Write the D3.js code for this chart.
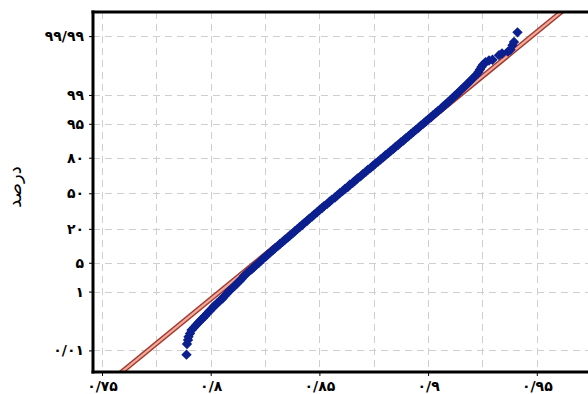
<!DOCTYPE html>
<html>
<head>
<meta charset="utf-8">
<script src="https://cdn.jsdelivr.net/npm/d3@7"></script>
<style>
  html, body { margin: 0; padding: 0; background: #fff; }
  svg { display: block; font-family: "DejaVu Sans", sans-serif; }
</style>
</head>
<body>
<div id="chart"></div>
<script>
// normal probability plot

const xTicks = [0.75, 0.8, 0.85, 0.9, 0.95];
const xTickLabels = ['۰/۷۵', '۰/۸', '۰/۸۵', '۰/۹', '۰/۹۵'];
const xGrid = [0.75, 0.775, 0.8, 0.825, 0.85, 0.875, 0.9, 0.925, 0.95, 0.975];

const yTicks = [0.01, 1, 5, 20, 50, 80, 95, 99, 99.99];
const yTickLabels = ['۰/۰۱', '۱', '۵', '۲۰', '۵۰', '۸۰', '۹۵', '۹۹', '۹۹/۹۹'];
const yLabel = 'درصد';

// fitted normal line
const fitMean = 0.85942;
const fitSd = 0.023726;

// cumulative percent of each point
const pct = [
  0.0067, 0.018, 0.026, 0.034, 0.045, 0.060, 0.074, 0.090, 0.111, 0.135,
  0.159, 0.184, 0.219, 0.266, 0.318, 0.380, 0.454, 0.539, 0.640, 0.755,
  0.890, 1.04, 1.22, 1.41, 1.63, 1.89, 2.18,
  2.56, 2.87, 3.22, 3.59, 4.01, 4.46, 4.95, 5.48, 6.06, 6.68,
  7.35, 8.08, 8.85, 9.68, 10.56, 11.51, 12.51, 13.57, 14.69, 15.87,
  17.11, 18.41, 19.77, 21.19, 22.66, 24.20, 25.78, 27.43, 29.12, 30.85,
  32.64, 34.46, 36.32, 38.21, 40.13, 42.07, 44.04, 46.02, 48.01, 50.00,
  51.99, 53.98, 55.96, 57.93, 59.87, 61.79, 63.68, 65.54, 67.36, 69.15,
  70.88, 72.57, 74.22, 75.80, 77.34, 78.81, 80.23, 81.59, 82.89, 84.13,
  85.31, 86.43, 87.49, 88.49, 89.44, 90.32, 91.15, 91.92, 92.65, 93.32,
  93.94, 94.52, 95.05, 95.54, 95.99, 96.41, 96.78, 97.13, 97.44, 97.72,
  97.98, 98.21, 98.42, 98.61, 98.78, 98.93, 99.06, 99.18, 99.29,
  99.40, 99.49, 99.57, 99.64, 99.70, 99.75, 99.795, 99.831, 99.861, 99.882,
  99.903, 99.916, 99.921, 99.946, 99.953, 99.960, 99.966, 99.977, 99.983, 99.993
];

// measured value of each point
const val = [
  0.78887, 0.78910, 0.78956, 0.78979, 0.79048, 0.79117, 0.79232, 0.79324, 0.79439, 0.79554,
  0.79646, 0.79738, 0.79830, 0.79945, 0.80060, 0.80160, 0.80290, 0.80405, 0.80545, 0.80635,
  0.80750, 0.80850, 0.80980, 0.81095, 0.81210, 0.81325, 0.81440,
  0.81537, 0.81654, 0.81753, 0.81881, 0.81980, 0.82088, 0.82207, 0.82306, 0.82404, 0.82533,
  0.82622, 0.82750, 0.82849, 0.82958, 0.83086, 0.83185, 0.83313, 0.83412, 0.83541, 0.83639,
  0.83768, 0.83867, 0.83985, 0.84094, 0.84213, 0.84311, 0.84440, 0.84538, 0.84667, 0.84766,
  0.84894, 0.84993, 0.85122, 0.85220, 0.85359, 0.85467, 0.85576, 0.85715, 0.85823, 0.85932,
  0.86061, 0.86169, 0.86308, 0.86397, 0.86535, 0.86644, 0.86752, 0.86891, 0.86990, 0.87118,
  0.87217, 0.87356, 0.87464, 0.87573, 0.87701, 0.87810, 0.87939, 0.88037, 0.88166, 0.88275,
  0.88403, 0.88502, 0.88630, 0.88739, 0.88868, 0.88966, 0.89095, 0.89204, 0.89322, 0.89431,
  0.89559, 0.89658, 0.89787, 0.89895, 0.90004, 0.90133, 0.90231, 0.90350, 0.90458, 0.90587,
  0.90686, 0.90794, 0.90913, 0.91012, 0.91120, 0.91219, 0.91328, 0.91426, 0.91525,
  0.91651, 0.91766, 0.91881, 0.91996, 0.92111, 0.92226, 0.92318, 0.92387, 0.92456, 0.92525,
  0.92640, 0.92801, 0.92962, 0.93261, 0.93399, 0.93675, 0.93790, 0.93882, 0.93951, 0.94112
];

const WIDTH = 588, HEIGHT = 394;
const PLOT = { left: 93, top: 12, right: 610, bottom: 372 };

// inverse normal cdf (Acklam)
function qnorm(p) {
  const a = [-3.969683028665376e+01, 2.209460984245205e+02, -2.759285104469687e+02, 1.383577518672690e+02, -3.066479806614716e+01, 2.506628277459239e+00];
  const b = [-5.447609879822406e+01, 1.615858368580409e+02, -1.556989798598866e+02, 6.680131188771972e+01, -1.328068155288572e+01];
  const c = [-7.784894002430293e-03, -3.223964580411365e-01, -2.400758277161838e+00, -2.549732539343734e+00, 4.374664141464968e+00, 2.938163982698783e+00];
  const d = [7.784695709041462e-03, 3.224671290700398e-01, 2.445134137142996e+00, 3.754408661907416e+00];
  const pl = 0.02425;
  let q, r;
  if (p < pl) {
    q = Math.sqrt(-2 * Math.log(p));
    return (((((c[0]*q+c[1])*q+c[2])*q+c[3])*q+c[4])*q+c[5]) / ((((d[0]*q+d[1])*q+d[2])*q+d[3])*q+1);
  }
  if (p <= 1 - pl) {
    q = p - 0.5; r = q * q;
    return (((((a[0]*r+a[1])*r+a[2])*r+a[3])*r+a[4])*r+a[5])*q / (((((b[0]*r+b[1])*r+b[2])*r+b[3])*r+b[4])*r+1);
  }
  q = Math.sqrt(-2 * Math.log(1 - p));
  return -(((((c[0]*q+c[1])*q+c[2])*q+c[3])*q+c[4])*q+c[5]) / ((((d[0]*q+d[1])*q+d[2])*q+d[3])*q+1);
}
const zOf = p => qnorm(p / 100);

const x = d3.scaleLinear().domain([0.75, 0.95]).range([102, 536.8]);
const y = d3.scaleLinear().domain([-4.23, 4.29]).range([PLOT.bottom, PLOT.top]);

const svg = d3.select('#chart').append('svg')
  .attr('width', WIDTH)
  .attr('height', HEIGHT);

svg.append('clipPath').attr('id', 'plot-clip')
  .append('rect')
  .attr('x', PLOT.left).attr('y', PLOT.top)
  .attr('width', PLOT.right - PLOT.left).attr('height', PLOT.bottom - PLOT.top);

// grid
const grid = svg.append('g')
  .attr('stroke', '#cfcfcf')
  .attr('stroke-width', 1)
  .attr('stroke-dasharray', '7,5');

grid.selectAll('line.v')
  .data(xGrid)
  .join('line')
  .attr('class', 'v')
  .attr('x1', d => Math.round(x(d)) + 0.5).attr('x2', d => Math.round(x(d)) + 0.5)
  .attr('y1', PLOT.top).attr('y2', PLOT.bottom);

grid.selectAll('line.h')
  .data(yTicks)
  .join('line')
  .attr('class', 'h')
  .attr('x1', PLOT.left).attr('x2', WIDTH)
  .attr('y1', d => Math.round(y(zOf(d))) + 0.5).attr('y2', d => Math.round(y(zOf(d))) + 0.5);

const plot = svg.append('g').attr('clip-path', 'url(#plot-clip)');

// fitted line, dark edges with light core
const zLine = [-4.6, 4.6];
const fitLine = d3.line()
  .x(z => x(fitMean + fitSd * z))
  .y(z => y(z));

plot.append('path')
  .datum(zLine)
  .attr('d', fitLine)
  .attr('fill', 'none')
  .attr('stroke', '#a3372c')
  .attr('stroke-width', 5);

plot.append('path')
  .datum(zLine)
  .attr('d', fitLine)
  .attr('fill', 'none')
  .attr('stroke', '#eeaa9c')
  .attr('stroke-width', 2.2);

// points
const points = pct.map((p, i) => ({ p, v: val[i] }));
const diamond = d3.symbol().type(d3.symbolSquare).size(54);

plot.append('g')
  .selectAll('path')
  .data(points)
  .join('path')
  .attr('d', diamond)
  .attr('transform', d => `translate(${x(d.v)},${y(zOf(d.p))}) rotate(45)`)
  .attr('fill', '#0b1f8e');

// axes
const xAxis = d3.axisBottom(x)
  .tickValues(xTicks)
  .tickFormat((d, i) => xTickLabels[i])
  .tickSize(4)
  .tickPadding(5);

const gx = svg.append('g')
  .attr('transform', `translate(0,${PLOT.bottom})`)
  .call(xAxis);
gx.select('.domain').remove();
gx.selectAll('text').attr('font-size', 14).attr('font-weight', 'bold').attr('fill', '#000').attr('font-family', '"DejaVu Sans", sans-serif');
gx.selectAll('line').attr('stroke', '#000');

const yAxis = d3.axisLeft(y)
  .tickValues(yTicks.map(zOf))
  .tickFormat((d, i) => yTickLabels[i])
  .tickSize(4)
  .tickPadding(5);

const gy = svg.append('g')
  .attr('transform', `translate(${PLOT.left},0)`)
  .call(yAxis);
gy.select('.domain').remove();
gy.selectAll('text').attr('font-size', 14).attr('font-weight', 'bold').attr('fill', '#000').attr('font-family', '"DejaVu Sans", sans-serif');
gy.selectAll('line').attr('stroke', '#000');

// frame: left, bottom, top
const frame = svg.append('g').attr('stroke', '#000').attr('stroke-width', 3);
frame.append('line').attr('x1', PLOT.left).attr('x2', PLOT.left).attr('y1', PLOT.top - 1.5).attr('y2', PLOT.bottom + 1.5);
frame.append('line').attr('x1', PLOT.left - 1.5).attr('x2', WIDTH).attr('y1', PLOT.bottom).attr('y2', PLOT.bottom);
frame.append('line').attr('x1', PLOT.left - 1.5).attr('x2', WIDTH).attr('y1', PLOT.top).attr('y2', PLOT.top);

svg.append('text')
  .attr('transform', `translate(21,${(PLOT.top + PLOT.bottom) / 2 - 5}) rotate(-90)`)
  .attr('text-anchor', 'middle')
  .attr('font-size', 18)
  .attr('fill', '#000')
  .text(yLabel);
</script>
</body>
</html>
